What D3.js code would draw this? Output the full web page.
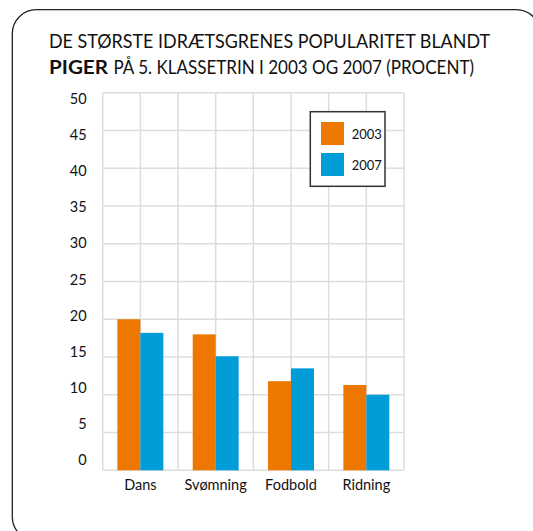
<!DOCTYPE html>
<html>
<head>
<meta charset="utf-8">
<script src="https://cdn.jsdelivr.net/npm/d3@7"></script>
<style>
  html, body { margin: 0; padding: 0; background: #fff; }
  svg { display: block; font-family: Lato, "Open Sans", sans-serif; }
</style>
</head>
<body>
<svg id="chart" width="533" height="531"></svg>
<script>
const categories = ["Dans", "Svømning", "Fodbold", "Ridning"];
const seriesNames = ["2003", "2007"];
const values2003 = [20, 18, 11.8, 11.3];
const values2007 = [18.2, 15.1, 13.5, 10];
const yTicks = [0, 5, 10, 15, 20, 25, 30, 35, 40, 45, 50];
const colors = ["#EE7700", "#009DD9"];

const svg = d3.select("#chart");

// rounded frame
svg.append("rect")
  .attr("x", 12.3).attr("y", 9.7)
  .attr("width", 528).attr("height", 531)
  .attr("rx", 24).attr("ry", 24)
  .attr("fill", "none").attr("stroke", "#222").attr("stroke-width", 1.3);

// title
const title = svg.append("g").attr("fill", "#111").style("font-size", "19.5px");
title.append("text").attr("x", 49).attr("y", 47.8)
  .attr("textLength", 441).attr("lengthAdjust", "spacingAndGlyphs")
  .text("DE STØRSTE IDRÆTSGRENES POPULARITET BLANDT");
title.append("text").attr("x", 49).attr("y", 74.2)
  .attr("font-weight", "bold")
  .attr("textLength", 59).attr("lengthAdjust", "spacingAndGlyphs")
  .text("PIGER");
title.append("text").attr("x", 113.5).attr("y", 74.2)
  .attr("textLength", 360.5).attr("lengthAdjust", "spacingAndGlyphs")
  .text("PÅ 5. KLASSETRIN I 2003 OG 2007 (PROCENT)");

const plotLeft = 102.7, plotRight = 404, plotTop = 92.7, plotBottom = 470.3;

const y = d3.scaleLinear().domain([0, 50]).range([plotBottom, plotTop]);
const yLabel = d3.scaleLinear().domain([0, 50]).range([465, 104]);
const xGrid = d3.scaleLinear().domain([0, 8]).range([plotLeft, plotRight]);
const x0 = d3.scaleBand().domain(categories).range([plotLeft, plotRight])
  .paddingInner(0.39).paddingOuter(0.195);
const x1 = d3.scaleBand().domain(seriesNames).range([0, x0.bandwidth()]);

// grid
const grid = svg.append("g").attr("stroke", "#DDDDDD").attr("stroke-width", 1.5);
grid.selectAll("line.h").data(yTicks).join("line").attr("class", "h")
  .attr("x1", plotLeft).attr("x2", plotRight)
  .attr("y1", d => y(d)).attr("y2", d => y(d));
grid.selectAll("line.v").data(d3.range(0, 9)).join("line").attr("class", "v")
  .attr("y1", plotTop).attr("y2", plotBottom)
  .attr("x1", d => xGrid(d)).attr("x2", d => xGrid(d));

// y labels
svg.append("g").selectAll("text").data(yTicks).join("text")
  .attr("x", 86.7).attr("y", d => yLabel(d))
  .attr("text-anchor", "end").attr("fill", "#111")
  .style("font-size", "14.5px")
  .text(d => d);

// bars
const data = categories.map((c, i) => ({ cat: c, vals: [values2003[i], values2007[i]] }));
const groups = svg.append("g").selectAll("g").data(data).join("g")
  .attr("transform", d => `translate(${x0(d.cat)},0)`);
groups.selectAll("rect").data(d => d.vals.map((v, j) => ({ s: seriesNames[j], v, j })))
  .join("rect")
  .attr("x", d => x1(d.s)).attr("width", x1.bandwidth())
  .attr("y", d => y(d.v)).attr("height", d => y(0) - y(d.v))
  .attr("fill", d => colors[d.j]);

// x labels
svg.append("g").selectAll("text").data(categories).join("text")
  .attr("x", d => x0(d) + x0.bandwidth() / 2).attr("y", 489.5)
  .attr("text-anchor", "middle").attr("fill", "#111")
  .style("font-size", "14.5px")
  .text(d => d);

// legend
const legend = svg.append("g");
legend.append("rect").attr("x", 310.3).attr("y", 111.7)
  .attr("width", 74.7).attr("height", 74.6)
  .attr("fill", "#fff").attr("stroke", "#333").attr("stroke-width", 1.5);
const items = legend.selectAll("g").data(seriesNames).join("g")
  .attr("transform", (d, i) => `translate(321,${122 + i * 31})`);
items.append("rect").attr("width", 23).attr("height", 23)
  .attr("fill", (d, i) => colors[i]);
items.append("text").attr("x", 30.7).attr("y", 17)
  .attr("fill", "#111").style("font-size", "13px")
  .text(d => d);
</script>
</body>
</html>
